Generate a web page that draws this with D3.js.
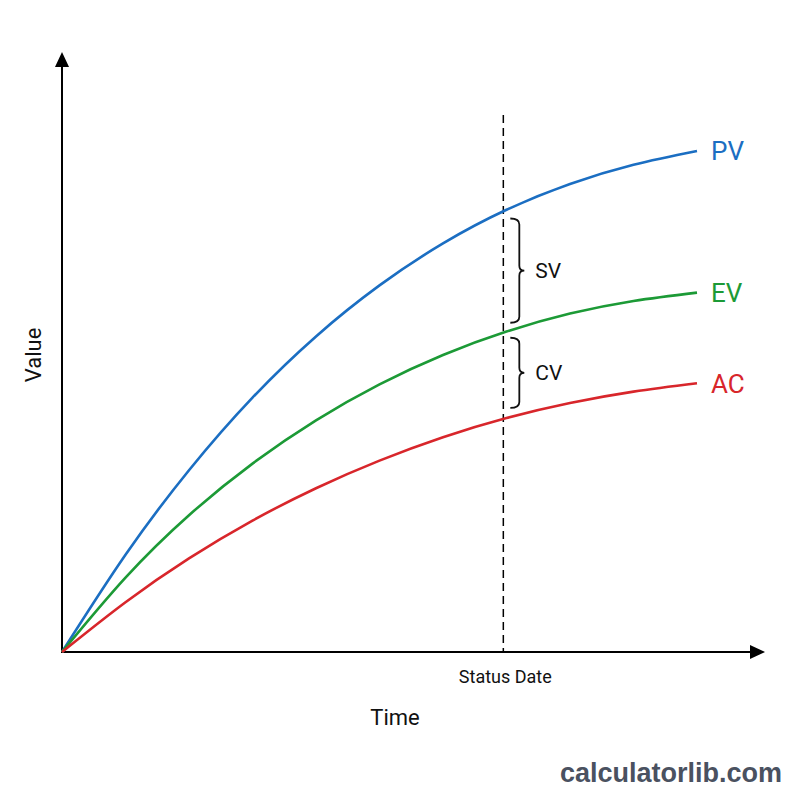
<!DOCTYPE html>
<html>
<head>
<meta charset="utf-8">
<script src="https://cdn.jsdelivr.net/npm/d3@7"></script>
<style>
  body { margin: 0; background: #fff; }
  text { font-family: Roboto, "Liberation Sans", sans-serif; }
</style>
</head>
<body>
<svg id="chart" width="800" height="800"></svg>
<script>
// time in % of project, value in % of budget
const times = [0, 10, 20, 30, 40, 50, 60, 70, 80, 90, 100]
const pv = [0, 16.2, 30.3, 42.4, 52.6, 61.1, 68.1, 73.7, 78, 81.2, 83.5]
const ev = [0, 12.4, 22.8, 31.4, 38.6, 44.6, 49.5, 53.4, 56.4, 58.5, 59.9]
const ac = [0, 8.3, 15.6, 21.9, 27.3, 31.9, 35.8, 39, 41.5, 43.4, 44.8]
const seriesNames = ['PV', 'EV', 'AC']
const statusTime = 69.5
const statusTop = 89.5

const colors = { PV: '#1b6ec2', EV: '#1c9a36', AC: '#d8262b' }

const svg = d3.select('#chart')

let x = d3.scaleLinear().domain([0, 100]).range([62, 697])
let y = d3.scaleLinear().domain([0, 100]).range([652, 52])

let series = [
  { name: 'PV', values: pv },
  { name: 'EV', values: ev },
  { name: 'AC', values: ac }
]

let line = d3.line()
  .x((d, i) => x(times[i]))
  .y(d => y(d))
  .curve(d3.curveNatural)

// axes with arrowheads
let x0 = x(0), y0 = y(0)
let xEnd = 765, yEnd = y(100)

svg.append('line')
  .attr('x1', x0).attr('y1', y0)
  .attr('x2', xEnd - 12).attr('y2', y0)
  .attr('stroke', '#000').attr('stroke-width', 2)
svg.append('path')
  .attr('d', `M${xEnd},${y0} L${xEnd - 15},${y0 - 7} L${xEnd - 15},${y0 + 7} Z`)
  .attr('fill', '#000')

svg.append('line')
  .attr('x1', x0).attr('y1', y0 + 1)
  .attr('x2', x0).attr('y2', yEnd + 12)
  .attr('stroke', '#000').attr('stroke-width', 2)
svg.append('path')
  .attr('d', `M${x0},${yEnd} L${x0 - 7},${yEnd + 15} L${x0 + 7},${yEnd + 15} Z`)
  .attr('fill', '#000')

// status date
svg.append('line')
  .attr('x1', x(statusTime)).attr('x2', x(statusTime))
  .attr('y1', y(statusTop)).attr('y2', y0)
  .attr('stroke', '#000')
  .attr('stroke-width', 1.5)
  .attr('stroke-dasharray', '8,5')

svg.append('text')
  .attr('x', x(statusTime) + 2)
  .attr('y', y0 + 31)
  .attr('text-anchor', 'middle')
  .attr('font-size', 18)
  .attr('fill', '#111')
  .text('Status Date')

// curves
svg.selectAll('.curve')
  .data(series)
  .enter()
  .append('path')
  .attr('class', 'curve')
  .attr('d', d => line(d.values))
  .attr('fill', 'none')
  .attr('stroke', d => colors[d.name])
  .attr('stroke-width', 2.6)

svg.selectAll('.curve-label')
  .data(series)
  .enter()
  .append('text')
  .attr('class', 'curve-label')
  .attr('x', x(100) + 14)
  .attr('y', d => y(d.values[d.values.length - 1]))
  .attr('dy', '0.36em')
  .attr('font-size', 26)
  .attr('fill', d => colors[d.name])
  .text(d => d.name)

// value at the status date
let valueAt = (vals, t) => {
  let i = d3.bisectRight(times, t) - 1
  let f = (t - times[i]) / (times[i + 1] - times[i])
  return vals[i] + f * (vals[i + 1] - vals[i])
}

let braceLeft = x(statusTime) + 7
let brace = (top, bottom) => {
  let mid = (top + bottom) / 2
  let l = braceLeft, r = braceLeft + 9, tip = braceLeft + 14
  return `M${l},${top} Q${r},${top} ${r},${top + 6}` +
    ` L${r},${mid - 5} Q${r},${mid} ${tip},${mid}` +
    ` Q${r},${mid} ${r},${mid + 5}` +
    ` L${r},${bottom - 6} Q${r},${bottom} ${l},${bottom}`
}

let gaps = [
  { label: 'SV', top: y(valueAt(pv, statusTime)) + 7, bottom: y(valueAt(ev, statusTime)) - 10 },
  { label: 'CV', top: y(valueAt(ev, statusTime)) + 5, bottom: y(valueAt(ac, statusTime)) - 11 }
]

svg.selectAll('.brace')
  .data(gaps)
  .enter()
  .append('path')
  .attr('class', 'brace')
  .attr('d', d => brace(d.top, d.bottom))
  .attr('fill', 'none')
  .attr('stroke', '#111')
  .attr('stroke-width', 1.8)

svg.selectAll('.brace-label')
  .data(gaps)
  .enter()
  .append('text')
  .attr('class', 'brace-label')
  .attr('x', braceLeft + 25)
  .attr('y', d => (d.top + d.bottom) / 2)
  .attr('dy', '0.36em')
  .attr('font-size', 21)
  .attr('fill', '#111')
  .text(d => d.label)

// axis titles
svg.append('text')
  .attr('x', 395)
  .attr('y', 725)
  .attr('text-anchor', 'middle')
  .attr('font-size', 22)
  .attr('fill', '#111')
  .text('Time')

svg.append('text')
  .attr('transform', `translate(41, ${y(49.5)}) rotate(-90)`)
  .attr('text-anchor', 'middle')
  .attr('font-size', 22)
  .attr('fill', '#111')
  .text('Value')

svg.append('text')
  .attr('x', 782)
  .attr('y', 782)
  .attr('text-anchor', 'end')
  .attr('font-size', 27)
  .attr('font-weight', 'bold')
  .style('font-family', '"Liberation Sans", Arial, sans-serif')
  .attr('fill', '#4a5160')
  .text('calculatorlib.com')
</script>
</body>
</html>
